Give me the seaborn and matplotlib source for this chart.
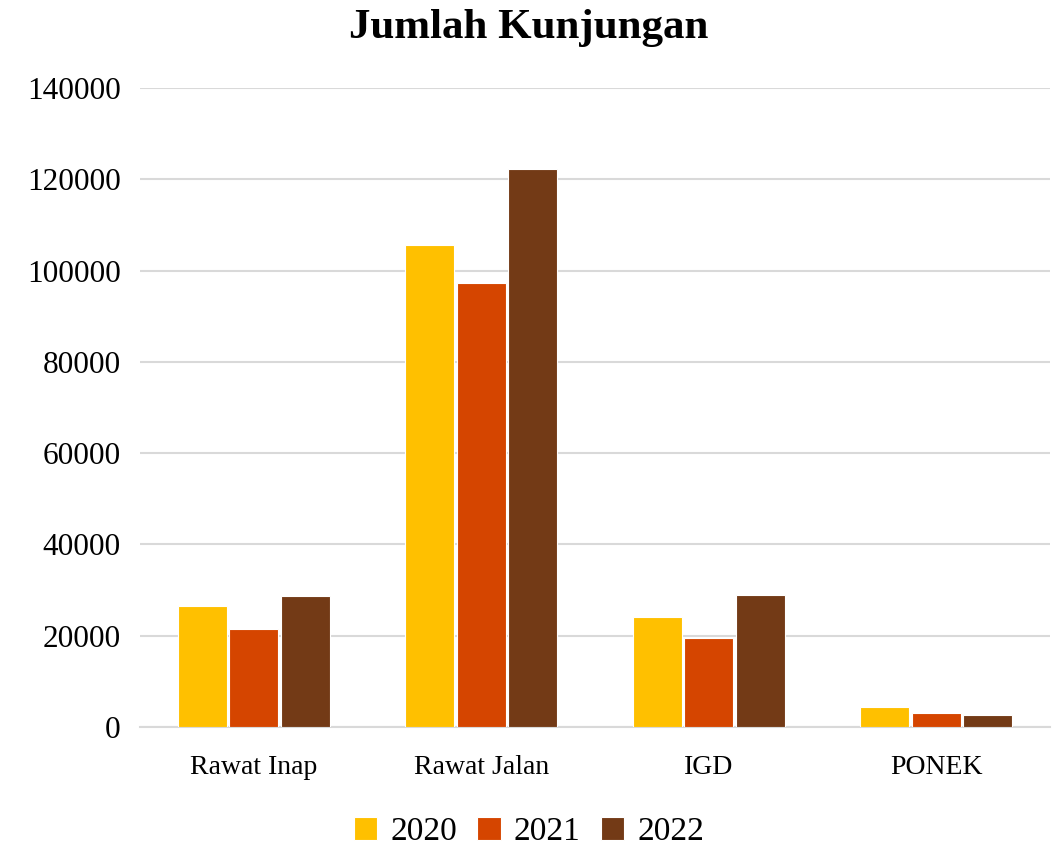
import pandas as pd
import matplotlib.pyplot as plt
import seaborn as sns

# Data
categories = ['Rawat Inap', 'Rawat Jalan', 'IGD', 'PONEK']
years = ['2020', '2021', '2022']
visits_2020 = [26600, 105650, 24200, 4400]
visits_2021 = [21500, 97200, 19400, 3100]
visits_2022 = [28650, 122350, 29000, 2650]
colors = ['#FFC000', '#D54500', '#733A16']

df = pd.DataFrame({
    'Layanan': categories * 3,
    'Tahun': [y for y in years for _ in categories],
    'Kunjungan': visits_2020 + visits_2021 + visits_2022,
})

sns.set_theme(style='white')
plt.rcParams['font.family'] = ['Liberation Serif', 'DejaVu Serif']
plt.rcParams['text.color'] = 'black'

fig, ax = plt.subplots(figsize=(10.58, 8.46), dpi=100)
fig.subplots_adjust(left=0.1323, right=0.9924, top=0.896, bottom=0.1407)

sns.barplot(data=df, x='Layanan', y='Kunjungan', hue='Tahun', order=categories,
            hue_order=years, palette=colors, width=0.68, gap=0.05,
            saturation=1, edgecolor='white', linewidth=0.8, ax=ax, zorder=3)

ax.set_ylim(0, 140000)
ax.set_xlim(-0.5, 3.5)
ax.set_yticks(range(0, 140001, 20000))
ax.yaxis.grid(True, color='#d9d9d9', linewidth=1.5, zorder=0)
ax.xaxis.grid(False)
for side in ['top', 'right', 'left']:
    ax.spines[side].set_visible(False)
ax.spines['bottom'].set_color('#d9d9d9')
ax.spines['bottom'].set_linewidth(1.5)
ax.tick_params(axis='y', length=0, pad=14, labelsize=22.5, labelcolor='black')
ax.tick_params(axis='x', length=0, pad=20, labelsize=20, labelcolor='black')
ax.set_xlabel('')
ax.set_ylabel('')

fig.text(0.5, 0.967, 'Jumlah Kunjungan', ha='center', va='center',
         fontsize=31, fontweight='bold', color='black')

handles, labels = ax.get_legend_handles_labels()
ax.legend_.remove()
fig.legend(handles, labels, loc='center', ncol=3, frameon=False,
           fontsize=24, bbox_to_anchor=(0.5, 0.0165), handlelength=0.7,
           handleheight=0.7, handletextpad=0.4, columnspacing=0.6)

plt.savefig('out.png', dpi=100)
plt.close()
